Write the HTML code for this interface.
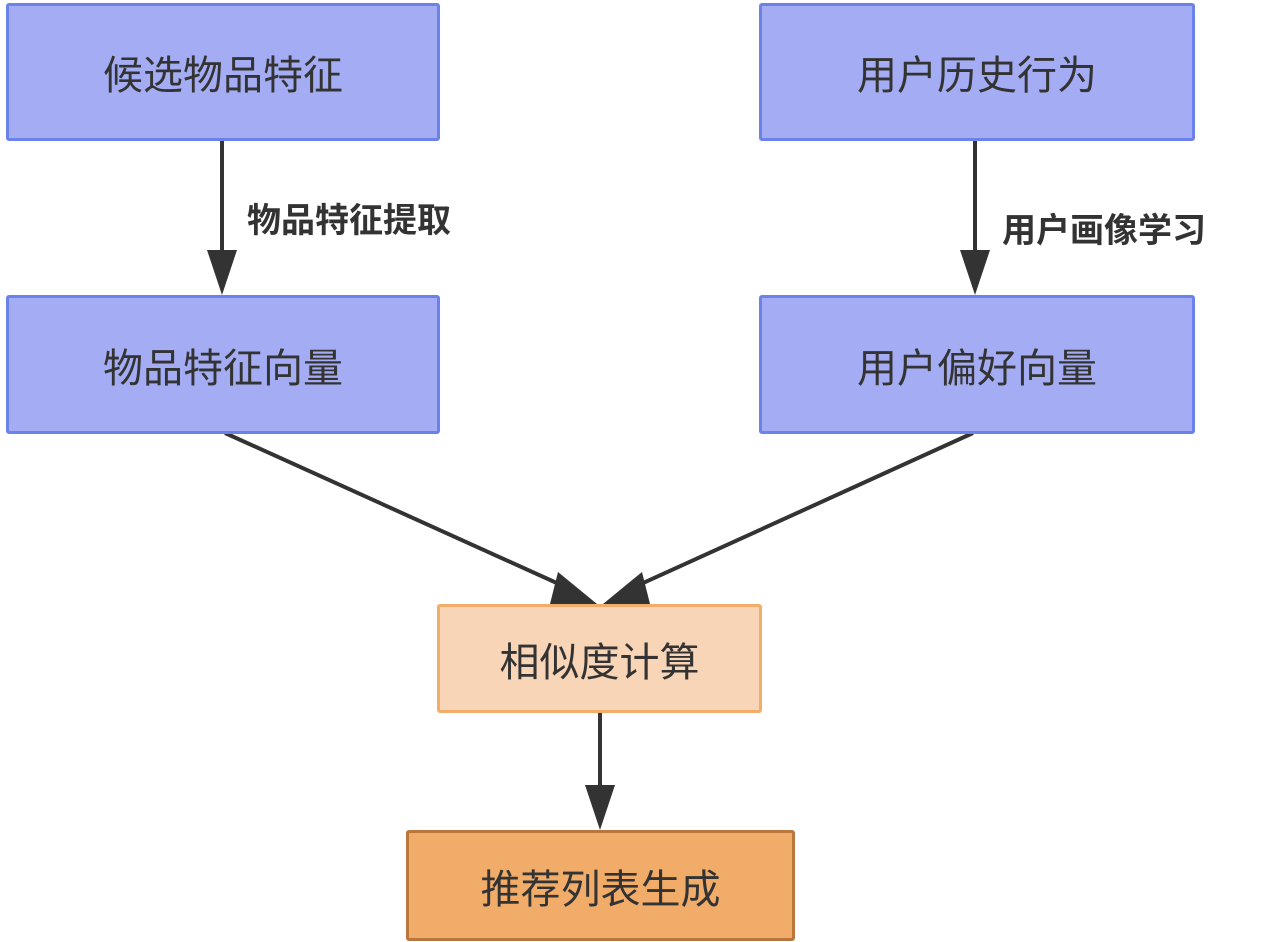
<!DOCTYPE html>
<html><head><meta charset="utf-8"><style>
body{margin:0;width:1276px;height:942px;background:#fff;overflow:hidden;position:relative;font-family:"Liberation Sans","Noto Sans CJK SC",sans-serif}
.b{position:absolute;box-sizing:border-box;display:flex;align-items:center;justify-content:center;font-size:40px;color:#333;border-radius:3px}
.p{background:#a4adf3;border:3px solid #6b82ea}
.l{position:absolute;font-weight:bold;font-size:34px;color:#333}
</style></head><body>
<svg width="1276" height="942" style="position:absolute;left:0;top:0">
<g stroke="#333" stroke-width="4" fill="none">
<line x1="222" y1="140" x2="222" y2="255"/>
<line x1="975" y1="140" x2="975" y2="255"/>
<line x1="225" y1="433" x2="570" y2="589"/>
<line x1="973" y1="433" x2="630" y2="589"/>
<line x1="600" y1="712" x2="600" y2="790"/>
</g>
<g fill="#333">
<polygon points="207,250 237,250 222,295"/>
<polygon points="960,250 990,250 975,295"/>
<polygon points="558,572 597,604 550,604"/>
<polygon points="642,572 603,604 650,604" transform="translate(0,0)"/>
<polygon points="585,785 615,785 600,830"/>
</g>
</svg>
<div class="b p" style="left:6px;top:3px;width:434px;height:138px">候选物品特征</div>
<div class="b p" style="left:759px;top:3px;width:436px;height:138px">用户历史行为</div>
<div class="b p" style="left:6px;top:295px;width:434px;height:139px">物品特征向量</div>
<div class="b p" style="left:759px;top:295px;width:436px;height:139px">用户偏好向量</div>
<div class="b" style="left:437px;top:604px;width:325px;height:109px;background:#f7d5b6;border:3px solid #f2ad6b">相似度计算</div>
<div class="b" style="left:406px;top:830px;width:389px;height:111px;background:#f1ac6a;border:3px solid #b9773d">推荐列表生成</div>
<div class="l" style="left:247px;top:193px">物品特征提取</div>
<div class="l" style="left:1002px;top:203px">用户画像学习</div>
</body></html>
